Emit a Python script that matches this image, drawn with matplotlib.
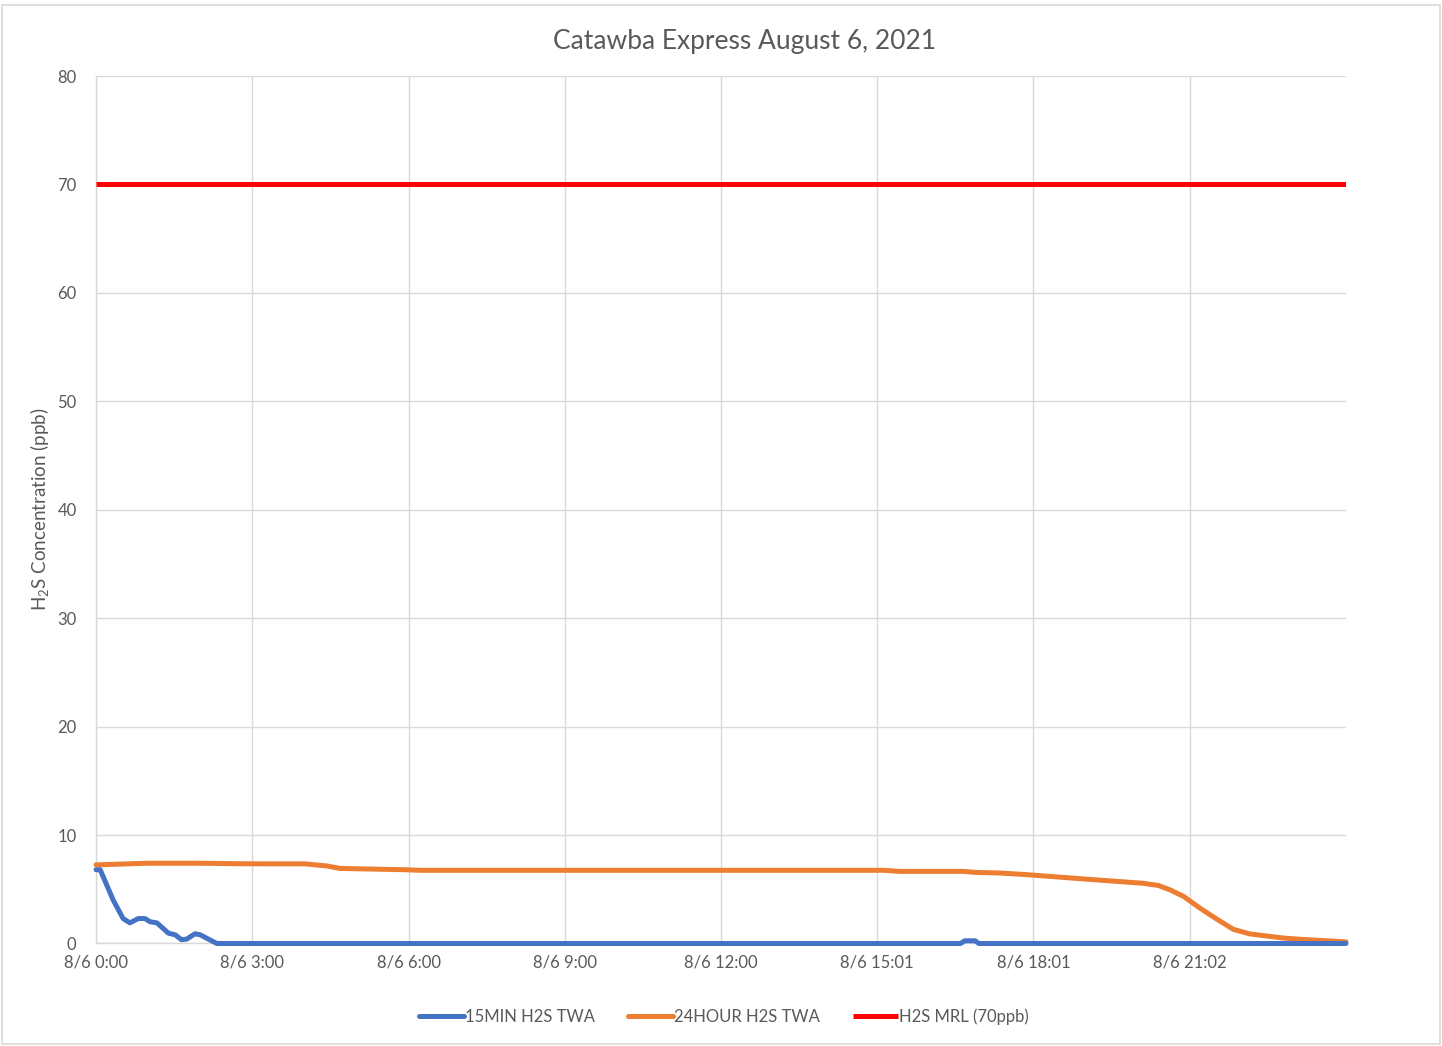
import matplotlib

matplotlib.use("Agg")
import matplotlib.pyplot as plt
from matplotlib.patches import Rectangle

plt.rcParams["font.family"] = ["Lato", "DejaVu Sans"]
plt.rcParams["mathtext.fontset"] = "custom"
plt.rcParams["mathtext.rm"] = "Lato"
plt.rcParams["mathtext.it"] = "Lato:italic"

# hours since 8/6 0:00
min15_hours = [0, 0.08, 0.33, 0.52, 0.65, 0.81, 0.94, 1.04, 1.17, 1.39, 1.52, 1.64,
               1.74, 1.90, 2.0, 2.16, 2.32, 16.6, 16.68, 16.88, 16.95, 24]
min15_vals = [6.8, 6.8, 4.0, 2.3, 1.9, 2.3, 2.3, 2.0, 1.9, 0.95, 0.8, 0.35,
              0.4, 0.9, 0.8, 0.4, 0.0, 0.0, 0.25, 0.25, 0.0, 0.0]

hour24_hours = [0, 0.97, 2.0, 2.89, 4.02, 4.43, 4.69, 5.96, 6.22, 15.13, 15.44, 16.65,
                16.91, 17.36, 17.87, 18.97, 20.11, 20.4, 20.62, 20.88, 21.2, 21.52, 21.84,
                22.16, 22.8, 23.12, 24]
hour24_vals = [7.25, 7.4, 7.4, 7.35, 7.34, 7.15, 6.92, 6.8, 6.75, 6.75, 6.65, 6.65,
               6.55, 6.5, 6.35, 5.95, 5.55, 5.35, 4.95, 4.35, 3.25, 2.25, 1.3,
               0.88, 0.5, 0.39, 0.15]

mrl_hours = [0, 24]
mrl_vals = [70, 70]

tick_hours = [0, 3, 6, 9, 12, 15, 18, 21]
tick_labels = ["8/6 0:00", "8/6 3:00", "8/6 6:00", "8/6 9:00", "8/6 12:00",
               "8/6 15:01", "8/6 18:01", "8/6 21:02"]

TEXT = "#595959"
GRID = "#d9d9d9"

fig = plt.figure(figsize=(14.42, 10.46), dpi=100)
ax = fig.add_axes([0.0666, 0.098, 0.8668, 0.8293])

line_kw = dict(lw=3.6, solid_capstyle="round", solid_joinstyle="round", clip_on=False)
ax.plot(min15_hours, min15_vals, color="#4472C4", label="15MIN H2S TWA", zorder=4, **line_kw)
ax.plot(hour24_hours, hour24_vals, color="#ED7D31", label="24HOUR H2S TWA", zorder=3, **line_kw)
ax.plot(mrl_hours, mrl_vals, color="#FF0000", label="H2S MRL (70ppb)", zorder=3,
        lw=3.6, solid_capstyle="butt")

ax.set_xlim(0, 24)
ax.set_ylim(0, 80)
ax.set_yticks(range(0, 81, 10))
ax.set_xticks(tick_hours)
ax.set_xticklabels(tick_labels)
ax.tick_params(length=0, labelsize=12, colors=TEXT, pad=8)
ax.tick_params(axis="y", pad=14)
ax.grid(True, color=GRID, lw=1)
ax.set_axisbelow(True)
for s in ["top", "right"]:
    ax.spines[s].set_visible(False)
for s in ["left", "bottom"]:
    ax.spines[s].set_color(GRID)
    ax.spines[s].set_linewidth(1)

ax.set_ylabel("H$_2$S Concentration (ppb)", fontsize=13.5, color=TEXT)
ax.yaxis.set_label_coords(-0.036, 0.5)
fig.text(0.516, 0.96, "Catawba Express August 6, 2021", ha="center", va="center",
         fontsize=19, color=TEXT)

fig.legend(loc="center", bbox_to_anchor=(0.502, 0.028), ncols=3, frameon=False,
           fontsize=12, labelcolor=TEXT, handlelength=2.7, handletextpad=0.05,
           columnspacing=2.0)

fig.patches.append(Rectangle((0.0014, 0.002), 0.997, 0.993, transform=fig.transFigure,
                             fill=False, edgecolor=GRID, lw=1.2))

fig.savefig("out.png", dpi=100)
